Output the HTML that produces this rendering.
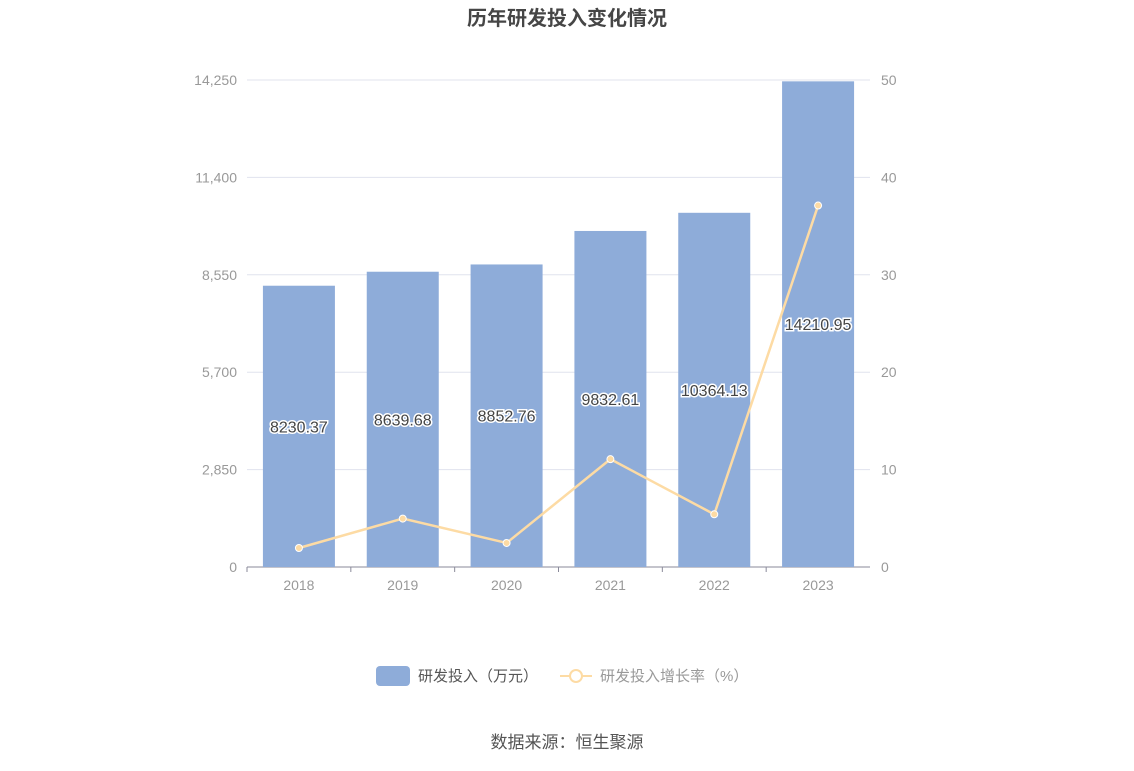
<!DOCTYPE html>
<html><head><meta charset="utf-8"><style>
body{margin:0;background:#fff;}
svg text{font-family:"Liberation Sans","Noto Sans CJK SC",sans-serif;}
</style></head><body>
<svg id="chart" width="1134" height="766" xmlns="http://www.w3.org/2000/svg">
<text x="567" y="25" text-anchor="middle" font-size="20" font-weight="bold" fill="#464646">历年研发投入变化情况</text>
<g id="grid"></g><g id="bars"></g><g id="line"></g><g id="labels"></g>
<g>
<rect x="376" y="666" width="34" height="20" rx="4" fill="#8eacd9"/>
<text x="418" y="681" font-size="15" fill="#555">研发投入（万元）</text>
<line x1="560" y1="676" x2="592" y2="676" stroke="#fddba4" stroke-width="2"/>
<circle cx="576" cy="676" r="6" fill="#fff" stroke="#fddba4" stroke-width="2"/>
<text x="600" y="681" font-size="15" fill="#999">研发投入增长率（%）</text>
</g>
<text x="567" y="748" text-anchor="middle" font-size="17" fill="#555">数据来源：恒生聚源</text>
</svg>
<script>
const years=["2018","2019","2020","2021","2022","2023"];
const investment=[8230.37,8639.68,8852.76,9832.61,10364.13,14210.95];
const growth=[1.95,4.97,2.47,11.07,5.41,37.11];
const leftTicks=[0,2850,5700,8550,11400,14250];
const leftTickLabels=["0","2,850","5,700","8,550","11,400","14,250"];
const rightTicks=[0,10,20,30,40,50];
const NS="http://www.w3.org/2000/svg";
const X0=247,X1=870,Y0=567,Y1=80;
const step=(X1-X0)/years.length;
const xc=i=>X0+step*(i+0.5);
const yL=v=>Y0-(v/14250)*(Y0-Y1);
const yR=v=>Y0-(v/50)*(Y0-Y1);
function mk(tag,attrs,parent,txt){const e=document.createElementNS(NS,tag);for(const k in attrs)e.setAttribute(k,attrs[k]);if(txt!==undefined)e.textContent=txt;document.getElementById(parent).appendChild(e);return e;}
leftTicks.forEach((t,i)=>{
  const y=yL(t);
  const g=mk("line",{x1:X0,x2:X1,y1:y,y2:y,stroke:i===0?"#8a8a9a":"#e0e3ee","stroke-width":1},"grid");
  
  
  const l=mk("text",{x:237,y:y+5,"text-anchor":"end","font-size":14,fill:"#999"},"grid",leftTickLabels[i]);
  
  
});
rightTicks.forEach(t=>{
  const r=mk("text",{x:881,y:yR(t)+5,"font-size":14,fill:"#999"},"grid",String(t));
  
  
});
years.forEach((yr,i)=>{
  const tk=mk("line",{x1:X0+step*i,x2:X0+step*i,y1:Y0,y2:Y0+5,stroke:"#8a8a9a"},"grid");
  
  
  const t=mk("text",{x:xc(i),y:Y0+23,"text-anchor":"middle","font-size":14,fill:"#999"},"grid",yr);
  
  
  const y=yL(investment[i]);
  const b=mk("rect",{x:xc(i)-36,y:y,width:72,height:Y0-y,fill:"#8eacd9"},"bars");
  
  
  const lb=mk("text",{x:xc(i),y:(y+Y0)/2+6,"text-anchor":"middle","font-size":16,fill:"#444",stroke:"#fff","stroke-width":3,"paint-order":"stroke"},"labels",investment[i].toFixed(2));
  
  
});
const pts=growth.map((g,i)=>xc(i)+","+yR(g)).join(" ");
const pl=mk("polyline",{points:pts,fill:"none",stroke:"#fddba4","stroke-width":2.5},"line");


growth.forEach((g,i)=>{
  const c=mk("circle",{cx:xc(i),cy:yR(g),r:3.5,fill:"#fddba4",stroke:"#fff","stroke-width":1},"line");
  
  
});
</script>
</body></html>
